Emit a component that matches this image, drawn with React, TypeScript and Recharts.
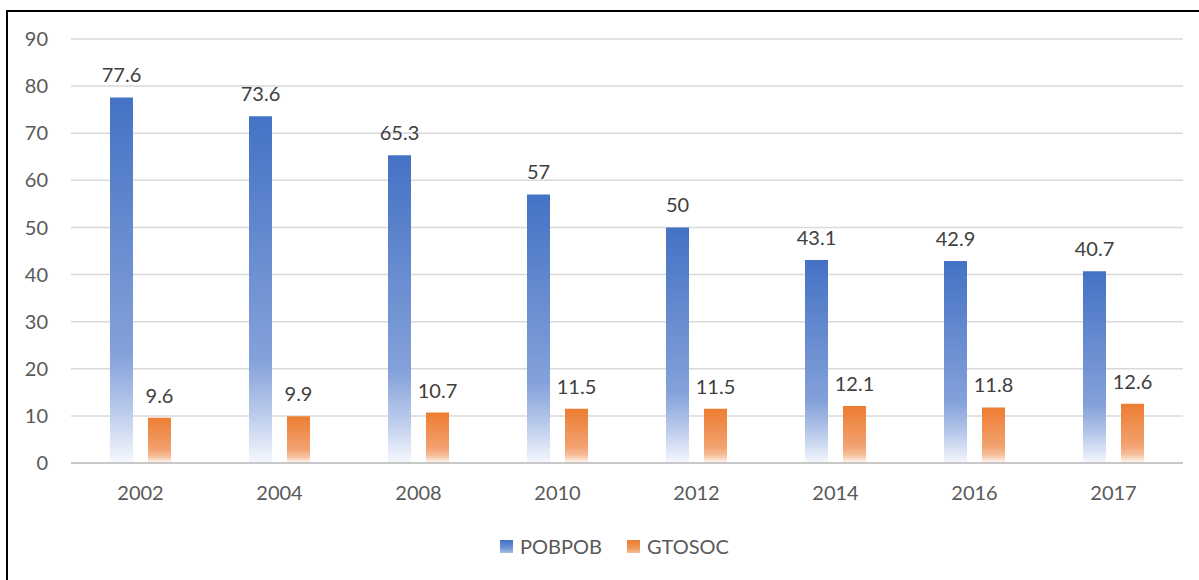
import { BarChart, Bar, XAxis, YAxis, CartesianGrid, Legend, LabelList } from "recharts";

const years = ["2002", "2004", "2008", "2010", "2012", "2014", "2016", "2017"];
const pobpob = [77.6, 73.6, 65.3, 57, 50, 43.1, 42.9, 40.7];
const gtosoc = [9.6, 9.9, 10.7, 11.5, 11.5, 12.1, 11.8, 12.6];
const yTicks = [0, 10, 20, 30, 40, 50, 60, 70, 80, 90];

const data = years.map((year, i) => ({ year, pobpob: pobpob[i], gtosoc: gtosoc[i] }));

const FONT = "Lato, 'Open Sans', sans-serif";

const renderLegend = () => (
  <div
    style={{
      display: "flex",
      justifyContent: "center",
      alignItems: "center",
      fontFamily: FONT,
      fontSize: 20,
      color: "#595959",
    }}
  >
    <span
      style={{
        display: "inline-block",
        width: 13,
        height: 13,
        marginRight: 7,
        background: "linear-gradient(#4472C4, #6F92D4 60%, #A9BEE6)",
      }}
    />
    <span style={{ marginRight: 25 }}>POBPOB</span>
    <span
      style={{
        display: "inline-block",
        width: 13,
        height: 13,
        marginRight: 7,
        background: "linear-gradient(#ED7D31, #F09555 60%, #F6BE98)",
      }}
    />
    <span>GTOSOC</span>
  </div>
);

export default function App() {
  return (
    <div style={{ position: "absolute", left: 0, top: 0, width: 1199, height: 580, background: "#fff" }}>
      <div
        style={{
          position: "absolute",
          left: 6,
          top: 10,
          right: 0,
          bottom: 0,
          borderLeft: "2px solid #000",
          borderTop: "2px solid #000",
        }}
      />
      <div style={{ position: "absolute", left: 0, top: 0 }}>
        <BarChart
          width={1199}
          height={580}
          data={data}
          margin={{ top: 39, right: 16, left: 0, bottom: 77 }}
          barSize={23}
          barGap={15}
        >
          <defs>
            <linearGradient id="blueGrad" x1="0" y1="0" x2="0" y2="1">
              <stop offset="0%" stopColor="#4472C4" />
              <stop offset="70%" stopColor="#84A1DA" />
              <stop offset="85%" stopColor="#B7C8EA" />
              <stop offset="100%" stopColor="#F5F8FD" />
            </linearGradient>
            <linearGradient id="orangeGrad" x1="0" y1="0" x2="0" y2="1">
              <stop offset="0%" stopColor="#ED7D31" />
              <stop offset="70%" stopColor="#F2A170" />
              <stop offset="85%" stopColor="#F6BE98" />
              <stop offset="100%" stopColor="#FFF8F3" />
            </linearGradient>
          </defs>
          <CartesianGrid vertical={false} stroke="#D9D9D9" strokeWidth={1.5} />
          <XAxis
            dataKey="year"
            height={40}
            tickLine={false}
            tickMargin={17}
            axisLine={{ stroke: "#C8C8C8", strokeWidth: 2 }}
            tick={{ fill: "#595959", fontSize: 20, fontFamily: FONT }}
          />
          <YAxis
            width={71}
            domain={[0, 90]}
            ticks={yTicks}
            interval={0}
            axisLine={false}
            tickLine={false}
            tickMargin={17}
            tick={{ fill: "#595959", fontSize: 20, fontFamily: FONT }}
          />
          <Legend
            verticalAlign="middle"
            align="center"
            layout="horizontal"
            wrapperStyle={{ top: 534, left: 15, width: 1199 }}
            content={renderLegend}
          />
          <Bar dataKey="pobpob" name="POBPOB" fill="url(#blueGrad)" isAnimationActive={false}>
            <LabelList
              dataKey="pobpob"
              position="top"
              offset={15}
              fill="#404040"
              fontSize={20}
              fontFamily={FONT}
            />
          </Bar>
          <Bar dataKey="gtosoc" name="GTOSOC" fill="url(#orangeGrad)" isAnimationActive={false}>
            <LabelList
              dataKey="gtosoc"
              position="top"
              offset={15}
              fill="#404040"
              fontSize={20}
              fontFamily={FONT}
            />
          </Bar>
        </BarChart>
      </div>
    </div>
  );
}
